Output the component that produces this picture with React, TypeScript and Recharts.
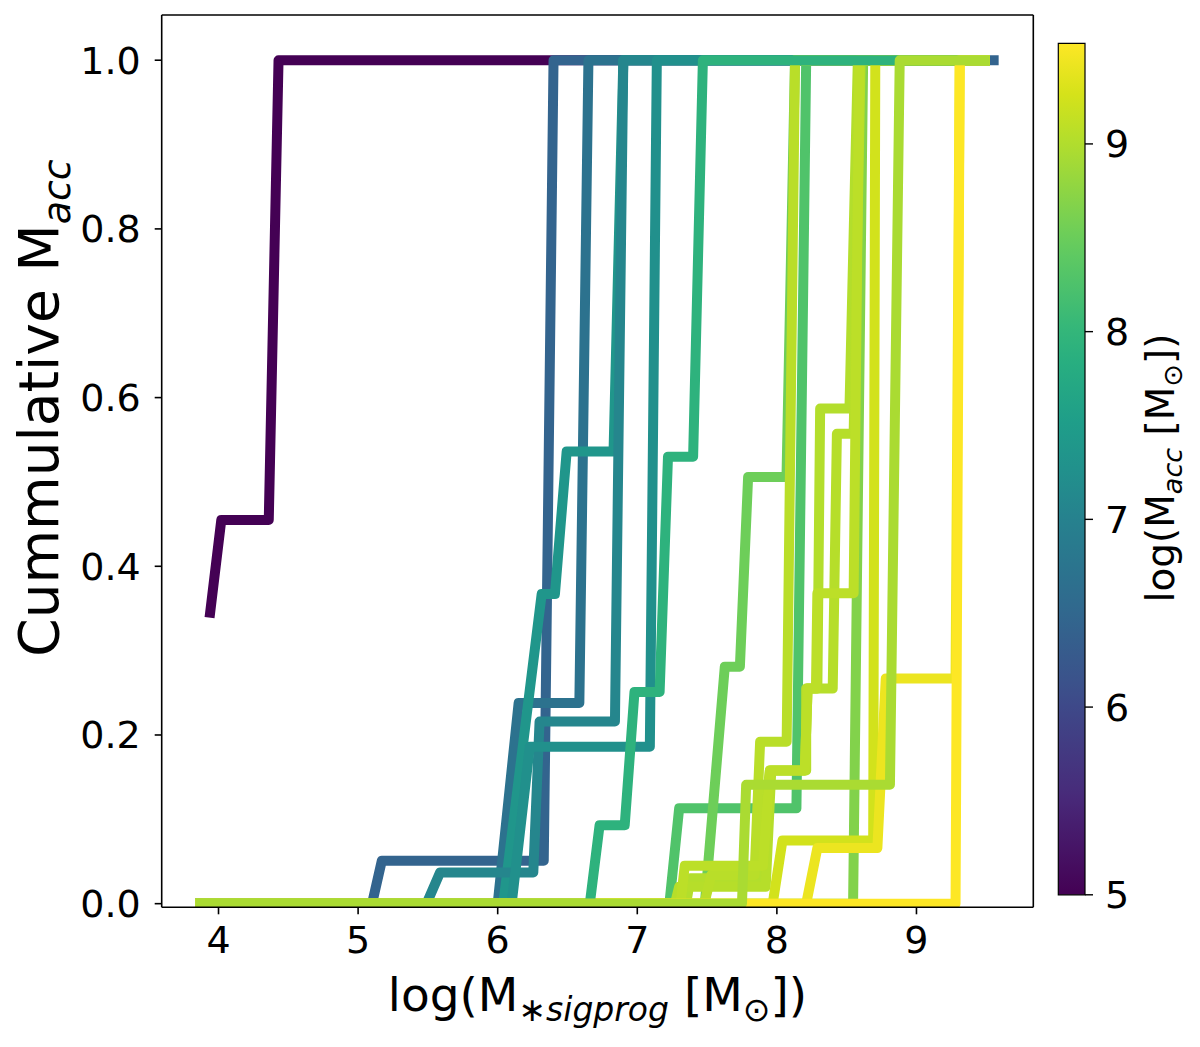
import React from "react";
import { LineChart, ComposedChart, Line, XAxis, YAxis, ReferenceArea, ReferenceLine, Label } from "recharts";

type Pt = [number, number];

// ---- tick labels / ranges ----
const X_TICKS = [4, 5, 6, 7, 8, 9];
const Y_TICKS = [0, 0.2, 0.4, 0.6, 0.8, 1.0];
const CB_TICKS = [5, 6, 7, 8, 9];
const CB_RANGE: [number, number] = [5.0, 9.536];

// ---- tracks: [log M*sigprog, cumulative Macc]; name = log Macc ----
const track500: Pt[] = [[3.94, 0.345], [4.02, 0.455], [4.36, 0.455], [4.43, 1.0], [9.49, 1.0]];
const track645: Pt[] = [[3.87, 0], [5.1, 0], [5.17, 0.051], [6.33, 0.051], [6.4, 1.0], [9.553, 1.0]];
const track670: Pt[] = [[3.87, 0], [6.0, 0], [6.15, 0.238], [6.585, 0.238], [6.65, 1.0], [9.49, 1.0]];
const track736: Pt[] = [[3.87, 0], [6.04, 0], [6.315, 0.367], [6.41, 0.367], [6.494, 0.536], [6.83, 0.536], [6.9, 1.0], [9.49, 1.0]];
const track709: Pt[] = [[3.87, 0], [5.49, 0], [5.587, 0.037], [6.255, 0.037], [6.3, 0.216], [6.84, 0.216], [6.9, 1.0], [9.49, 1.0]];
const track725: Pt[] = [[3.87, 0], [6.1, 0], [6.23, 0.186], [7.09, 0.186], [7.14, 1.0], [9.49, 1.0]];
const track827: Pt[] = [[3.87, 0], [7.23, 0], [7.3, 0.113], [8.14, 0.113], [8.21, 1.0], [9.49, 1.0]];
const track852: Pt[] = [[3.87, 0], [7.484, 0], [7.627, 0.281], [7.735, 0.281], [7.794, 0.506], [8.069, 0.506], [8.13, 1.0], [9.49, 1.0]];
const track867: Pt[] = [[3.87, 0], [8.546, 0], [8.618, 1.0], [9.49, 1.0]];
const track902: Pt[] = [[3.87, 0], [7.35, 0], [7.38, 0.03], [7.86, 0.03], [7.95, 0.158], [8.2, 0.158], [8.22, 0.255], [8.29, 0.255], [8.31, 0.587], [8.52, 0.587], [8.58, 1.0], [9.49, 1.0]];
const track904: Pt[] = [[3.87, 0], [7.27, 0], [7.3, 0.02], [7.92, 0.02], [7.96, 0.158], [8.21, 0.158], [8.21, 0.255], [8.4, 0.255], [8.43, 0.557], [8.55, 0.557], [8.6, 1.0], [9.49, 1.0]];
const track906: Pt[] = [[3.87, 0], [7.48, 0], [7.53, 0.034], [7.84, 0.034], [7.88, 0.192], [8.07, 0.192], [8.13, 1.0], [9.49, 1.0]];
const track908: Pt[] = [[3.87, 0], [7.31, 0], [7.34, 0.045], [7.9, 0.045], [7.95, 0.158], [8.2, 0.158], [8.22, 0.255], [8.28, 0.255], [8.29, 0.368], [8.55, 0.368], [8.59, 1.0], [9.49, 1.0]];
const track924: Pt[] = [[3.87, 0], [7.97, 0], [8.04, 0.075], [8.69, 0.075], [8.705, 1.0], [9.49, 1.0]];
const track942: Pt[] = [[3.87, 0], [8.21, 0], [8.29, 0.066], [8.72, 0.066], [8.78, 0.267], [9.28, 0.267], [9.31, 1.0], [9.49, 1.0]];
const track793: Pt[] = [[3.87, 0], [6.66, 0], [6.73, 0.093], [6.91, 0.093], [6.98, 0.251], [7.16, 0.251], [7.22, 0.53], [7.4, 0.53], [7.47, 1.0], [9.49, 1.0]];
const track954: Pt[] = [[3.87, 0], [9.28, 0], [9.31, 1.0], [9.49, 1.0]];
const track895: Pt[] = [[3.87, 0], [7.75, 0], [7.78, 0.141], [8.81, 0.141], [8.88, 1.0], [9.49, 1.0]];

// draw order: [log Macc, track]
const DRAW_ORDER: [number, Pt[]][] = [
  [5.0, track500], [6.45, track645], [6.7, track670], [7.36, track736], [7.09, track709],
  [7.25, track725], [8.27, track827], [8.52, track852], [8.67, track867], [9.02, track902],
  [9.04, track904], [9.06, track906], [9.08, track908], [9.24, track924], [9.42, track942],
  [7.93, track793], [9.536, track954], [8.95, track895],
];

// ---- style ----
const FONT = "DejaVu Sans";
const VIRIDIS: [number, string][] = [
  [0, "#440154"], [0.111, "#482878"], [0.125, "#472d7b"], [0.222, "#3e4989"], [0.25, "#3b528b"],
  [0.333, "#31688e"], [0.375, "#2c728e"], [0.444, "#26828e"], [0.5, "#21918c"], [0.556, "#1f9e89"],
  [0.625, "#28ae80"], [0.667, "#35b779"], [0.75, "#5ec962"], [0.778, "#6ece58"], [0.875, "#addc30"],
  [0.889, "#b5de2b"], [0.94, "#d5e21a"], [1, "#fde725"],
];
const hex = (c: string) => [1, 3, 5].map((i) => parseInt(c.slice(i, i + 2), 16));
function viridis(v: number): string {
  const t = Math.max(0, Math.min(1, (v - CB_RANGE[0]) / (CB_RANGE[1] - CB_RANGE[0])));
  for (let i = 1; i < VIRIDIS.length; i++) {
    const [t1, c1] = VIRIDIS[i];
    const [t0, c0] = VIRIDIS[i - 1];
    if (t <= t1) {
      const f = (t - t0) / (t1 - t0);
      const a = hex(c0), b = hex(c1);
      const r = a.map((x, k) => Math.round(x + (b[k] - x) * f));
      return `rgb(${r[0]},${r[1]},${r[2]})`;
    }
  }
  return VIRIDIS[VIRIDIS.length - 1][1];
}

const X_DOMAIN: [number, number] = [3.593, 9.837];
const Y_DOMAIN: [number, number] = [-0.0043, 1.0536];
const PLOT = { left: 161.7, right: 1033.3, top: 15, bottom: 907.3 };
const W = 1200, H = 1047;
const YAXIS_W = 150, XAXIS_H = 100;
const tickStyle = { fontSize: 38, fill: "#000", fontFamily: FONT };

const XLabelText = () => (
  <text x={597.5} y={1011} textAnchor="middle" fontSize={47} fontFamily={FONT} fill="#000">
    log(M<tspan dy={10} fontSize={33}>∗</tspan>
    <tspan fontSize={33} fontStyle="italic">sigprog</tspan>
    <tspan dy={-10}> [M</tspan>
    <tspan dy={10} fontSize={33}>⊙</tspan>
    <tspan dy={-10}>])</tspan>
  </text>
);

const YLabelText = () => (
  <text x={58} y={408} transform="rotate(-90 58 408)" textAnchor="middle" fontSize={55} fontFamily={FONT} fill="#000">
    Cummulative M<tspan dy={12} fontSize={38} fontStyle="italic">acc</tspan>
  </text>
);

const CbLabelText = () => (
  <text x={144} y={468} transform="rotate(-90 144 468)" textAnchor="middle" fontSize={39} fontFamily={FONT} fill="#000">
    log(M<tspan dy={8} fontSize={27} fontStyle="italic">acc</tspan>
    <tspan dy={-8}> [M</tspan>
    <tspan dy={8} fontSize={27}>⊙</tspan>
    <tspan dy={-8}>])</tspan>
  </text>
);

const CB_DATA = CB_RANGE.map((v, i) => ({ x: i, v }));

export default function App() {
  return (
    <div style={{ position: "absolute", left: 0, top: 0, width: W, height: H, background: "#fff" }}>
      <div style={{ position: "absolute", left: 0, top: 0 }}>
        <LineChart
          width={W}
          height={H}
          margin={{
            top: PLOT.top,
            right: W - PLOT.right,
            bottom: H - PLOT.bottom - XAXIS_H,
            left: PLOT.left - YAXIS_W,
          }}
        >
          <XAxis
            type="number"
            dataKey="x"
            domain={X_DOMAIN}
            allowDataOverflow
            ticks={X_TICKS}
            interval={0}
            height={XAXIS_H}
            tickSize={7}
            tickMargin={12}
            tick={tickStyle}
            axisLine={{ stroke: "#000", strokeWidth: 1.6 }}
            tickLine={{ stroke: "#000", strokeWidth: 1.6 }}
          >
            <Label content={() => <XLabelText />} />
          </XAxis>
          <YAxis
            type="number"
            domain={Y_DOMAIN}
            allowDataOverflow
            ticks={Y_TICKS}
            interval={0}
            width={YAXIS_W}
            tickFormatter={(v: number) => v.toFixed(1)}
            tickSize={7}
            tickMargin={14}
            tick={tickStyle}
            axisLine={{ stroke: "#000", strokeWidth: 1.6 }}
            tickLine={{ stroke: "#000", strokeWidth: 1.6 }}
          >
            <Label content={() => <YLabelText />} />
          </YAxis>
          {DRAW_ORDER.map(([macc, pts], i) => (
            <Line
              key={i}
              data={pts.map(([x, y]) => ({ x, y }))}
              dataKey="y"
              type="linear"
              stroke={viridis(macc)}
              strokeWidth={10}
              strokeLinecap="square"
              strokeLinejoin="round"
              dot={false}
              activeDot={false}
              isAnimationActive={false}
            />
          ))}
          <ReferenceLine y={Y_DOMAIN[1]} stroke="#000" strokeWidth={1.6} ifOverflow="visible" />
          <ReferenceLine x={X_DOMAIN[1]} stroke="#000" strokeWidth={1.6} ifOverflow="visible" />
        </LineChart>
      </div>
      <div style={{ position: "absolute", left: 1030, top: 0 }}>
        <ComposedChart
          width={170}
          height={H}
          data={CB_DATA}
          margin={{ top: 43.3, bottom: H - 894.8, left: 28.3, right: 0 }}
        >
          <defs>
            <linearGradient id="cbViridis" x1="0" y1="1" x2="0" y2="0">
              {VIRIDIS.map(([t, c]) => (
                <stop key={t} offset={`${t * 100}%`} stopColor={c} />
              ))}
            </linearGradient>
          </defs>
          <XAxis type="number" dataKey="x" domain={[0, 1]} hide />
          <YAxis
            type="number"
            dataKey="v"
            orientation="right"
            domain={CB_RANGE}
            allowDataOverflow
            ticks={CB_TICKS}
            interval={0}
            width={115}
            axisLine={false}
            tickSize={8}
            tickMargin={12}
            tick={tickStyle}
            tickLine={{ stroke: "#000", strokeWidth: 1.4 }}
          >
            <Label content={() => <CbLabelText />} />
          </YAxis>
          <ReferenceArea
            x1={0}
            x2={1}
            y1={CB_RANGE[0]}
            y2={CB_RANGE[1]}
            fill="url(#cbViridis)"
            fillOpacity={1}
            stroke="#000"
            strokeWidth={1.2}
            ifOverflow="visible"
          />
        </ComposedChart>
      </div>
    </div>
  );
}
